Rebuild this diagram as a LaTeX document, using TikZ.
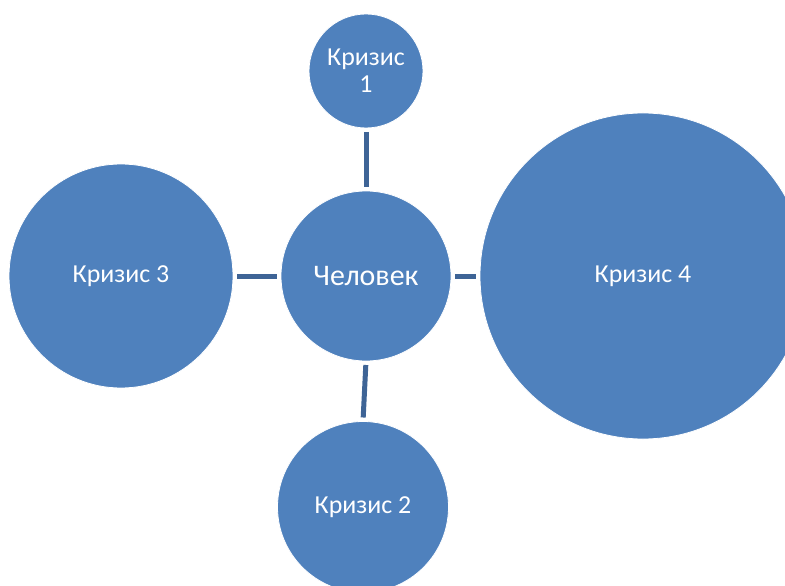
\documentclass[tikz,border=0pt]{standalone}
\usepackage{fontspec}
\setmainfont{Carlito}
\definecolor{crisisblue}{RGB}{79,129,189}
\definecolor{linkblue}{RGB}{62,100,150}

\begin{document}
\begin{tikzpicture}[x=1bp, y=1bp,
	crisis/.style = {circle, fill=crisisblue, draw=white, line width=0.8bp, inner sep=0pt, outer sep=0pt, text=white, align=center, font=\fontsize{26}{27}\selectfont},
	link/.style = {draw=linkblue, line width=5bp, shorten <=4bp, shorten >=4bp}]
	\useasboundingbox (0,0) rectangle (785,-586);
	\clip (0,0) rectangle (785,-586);
	\node[crisis, minimum size=170bp, font=\fontsize{30}{32}\selectfont] (man) at (366,-276) {Человек};
	\node[crisis, minimum size=114bp] (crisisA) at (366,-71) {Кризис\\1};
	\node[crisis, minimum size=171bp] (crisisB) at (363,-507) {Кризис 2};
	\node[crisis, minimum size=224bp] (crisisC) at (121,-276) {Кризис 3};
	\node[crisis, minimum size=326bp] (crisisD) at (643,-276) {Кризис 4};
	\draw[link] (crisisA.south) -- (man.north);
	\draw[link] (man.south) -- (crisisB.north);
	\draw[link] (crisisC.east) -- (man.west);
	\draw[link] (man.east) -- (crisisD.west);
\end{tikzpicture}
\end{document}
